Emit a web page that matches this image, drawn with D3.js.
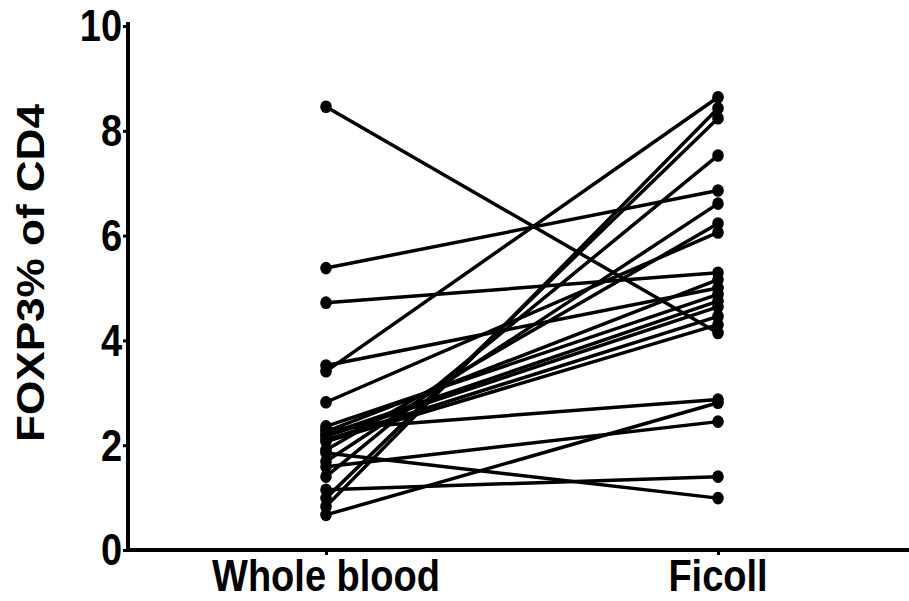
<!DOCTYPE html>
<html><head><meta charset="utf-8">
<script src="https://cdn.jsdelivr.net/npm/d3@7"></script>
<style>
html,body{margin:0;padding:0;background:#fff;}
text{font-family:"Liberation Sans",Arial,sans-serif;font-weight:bold;fill:#000;}
</style></head>
<body>
<svg id="chart" width="909" height="601"></svg>
<script>
const categories = ["Whole blood", "Ficoll"];
const wholeBlood = [8.46, 5.38, 4.72, 3.52, 3.41, 2.82, 2.30, 1.59, 1.15, 1.85, 0.67, 0.83, 0.99, 1.40, 1.69, 1.91, 2.36, 2.26, 2.20, 2.17, 2.10, 2.07];
const ficoll     = [4.14, 6.86, 5.29, 5.00, 8.64, 6.06, 2.87, 2.45, 1.40, 0.99, 2.81, 8.43, 8.24, 7.53, 6.61, 6.23, 4.88, 5.16, 4.75, 4.64, 4.46, 4.30];
const yTicks = [0, 2, 4, 6, 8, 10];
const yTitle = "FOXP3% of CD4";

const svg = d3.select("#chart");
const x = d3.scalePoint().domain(categories).range([326, 718]);
const y = d3.scaleLinear().domain([0, 10]).range([550, 26]);
const SY = 1.16;

// lines
const pairs = wholeBlood.map((v, i) => [v, ficoll[i]]);
svg.append("g").selectAll("line").data(pairs).join("line")
  .attr("x1", x(categories[0])).attr("x2", x(categories[1]))
  .attr("y1", d => y(d[0])).attr("y2", d => y(d[1]))
  .attr("stroke", "#000").attr("stroke-width", 3.5).attr("stroke-linecap", "round");

// points
const pts = [];
pairs.forEach(p => { pts.push([categories[0], p[0]]); pts.push([categories[1], p[1]]); });
svg.append("g").selectAll("ellipse").data(pts).join("ellipse")
  .attr("cx", d => x(d[0])).attr("cy", d => y(d[1]))
  .attr("rx", 5.8).attr("ry", 6.3).attr("fill", "#000");

// y axis
const yAxis = svg.append("g").attr("transform", "translate(128,0)")
  .call(d3.axisLeft(y).tickValues(yTicks).tickSize(5).tickFormat(d3.format("d")));
yAxis.select(".domain").attr("stroke-width", 4).attr("d", `M0,${y(0)}V${y(10)-4}`);
yAxis.selectAll(".tick line").attr("stroke-width", 3);
yAxis.selectAll(".tick text").attr("font-size", 38).attr("dy", null).attr("x", -6).attr("y", 0)
  .attr("dominant-baseline", "central")
  .attr("transform", "scale(1," + SY + ")");

// x axis
const xAxis = svg.append("g").attr("transform", `translate(0,${y(0)})`)
  .call(d3.axisBottom(x).tickSize(5));
xAxis.select(".domain").attr("stroke-width", 4).attr("d", "M126,0H909");
xAxis.selectAll(".tick line").attr("stroke-width", 3);
xAxis.selectAll(".tick text").remove();
categories.forEach(c => {
  svg.append("text").attr("transform", `translate(${x(c)},591) scale(1,${SY})`)
    .attr("text-anchor", "middle").attr("font-size", 38).text(c);
});

// y title
svg.append("text").attr("transform", `translate(44,273) scale(1,${SY}) rotate(-90)`)
  .attr("text-anchor", "middle").attr("font-size", 38).text(yTitle);
</script>
</body></html>
